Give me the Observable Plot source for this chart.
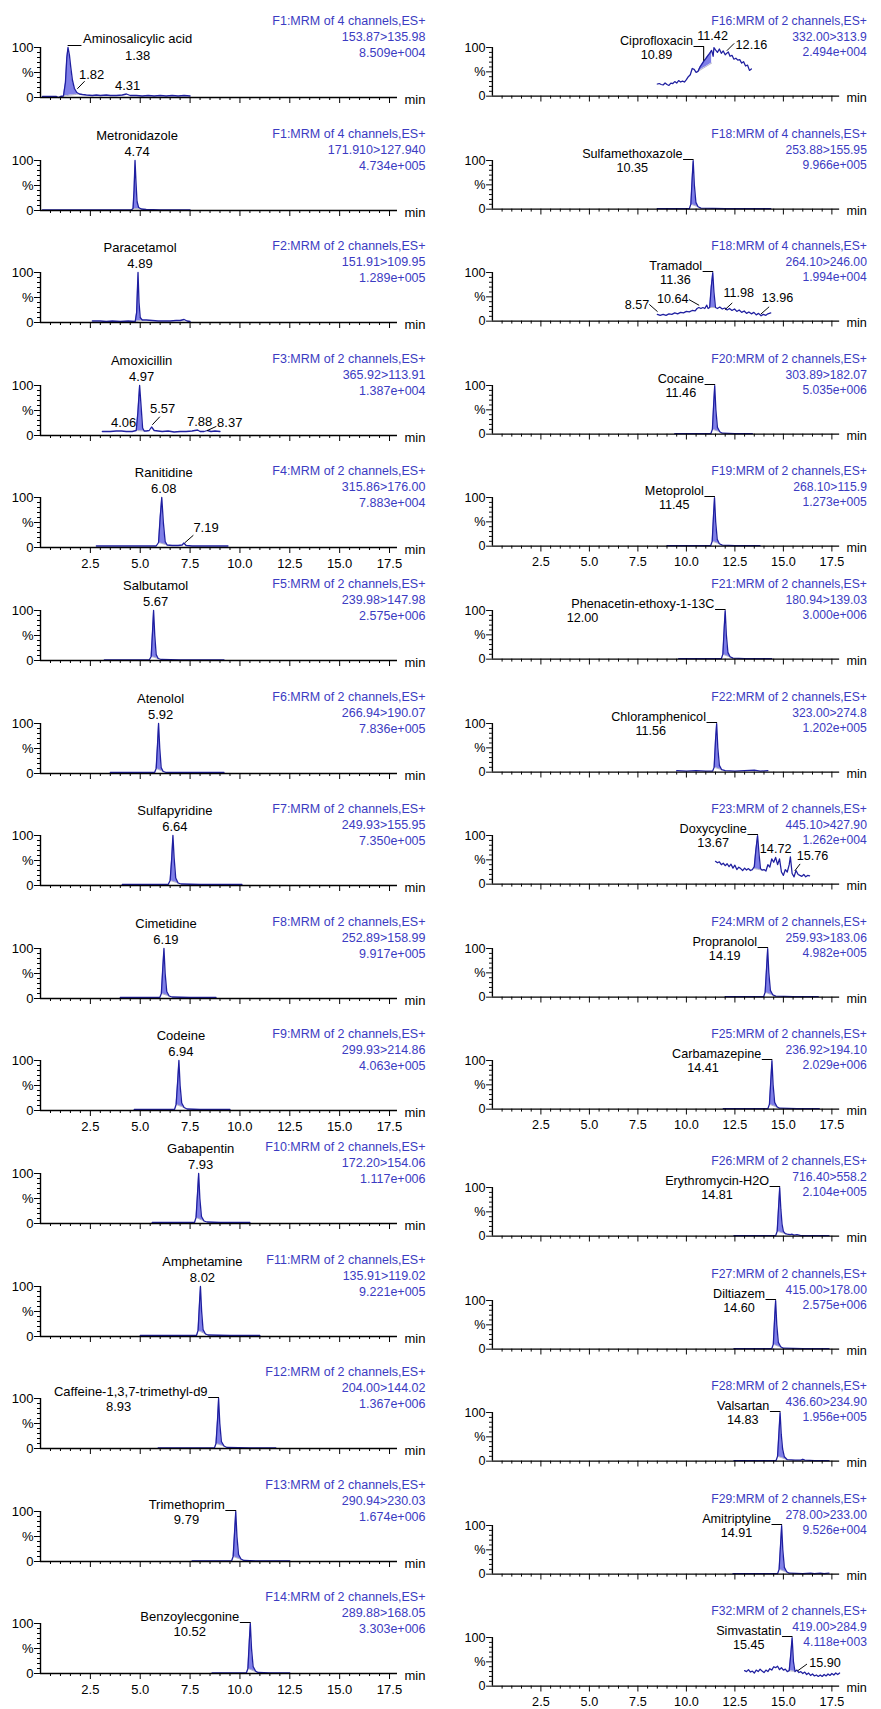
<!DOCTYPE html>
<html><head><meta charset="utf-8">
<script src="https://cdn.jsdelivr.net/npm/d3@7"></script>
<script src="https://cdn.jsdelivr.net/npm/@observablehq/plot@0.6"></script>
<style>
body{margin:0;background:#fff;width:881px;height:1709px;overflow:hidden;position:relative;font-family:Arial,"Liberation Sans",sans-serif}
.panel{position:absolute}
.panel svg{overflow:visible}
</style></head><body><div id="root"></div>
<script>
// ---------- DATA ----------
const compounds = ["Aminosalicylic acid","Metronidazole","Paracetamol","Amoxicillin","Ranitidine","Salbutamol","Atenolol","Sulfapyridine","Cimetidine","Codeine","Gabapentin","Amphetamine","Caffeine-1,3,7-trimethyl-d9","Trimethoprim","Benzoylecgonine",
  "Ciprofloxacin","Sulfamethoxazole","Tramadol","Cocaine","Metoprolol","Phenacetin-ethoxy-1-13C","Chloramphenicol","Doxycycline","Propranolol","Carbamazepine","Erythromycin-H2O","Diltiazem","Valsartan","Amitriptyline","Simvastatin"];
const retentionTimes = ["1.38","4.74","4.89","4.97","6.08","5.67","5.92","6.64","6.19","6.94","7.93","8.02","8.93","9.79","10.52",
  "10.89","10.35","11.36","11.46","11.45","12.00","11.56","13.67","14.19","14.41","14.81","14.60","14.83","14.91","15.45"];
const functions = ["F1:MRM of 4 channels,ES+","F1:MRM of 4 channels,ES+","F2:MRM of 2 channels,ES+","F3:MRM of 2 channels,ES+","F4:MRM of 2 channels,ES+","F5:MRM of 2 channels,ES+","F6:MRM of 2 channels,ES+","F7:MRM of 2 channels,ES+","F8:MRM of 2 channels,ES+","F9:MRM of 2 channels,ES+","F10:MRM of 2 channels,ES+","F11:MRM of 2 channels,ES+","F12:MRM of 2 channels,ES+","F13:MRM of 2 channels,ES+","F14:MRM of 2 channels,ES+",
  "F16:MRM of 2 channels,ES+","F18:MRM of 4 channels,ES+","F18:MRM of 4 channels,ES+","F20:MRM of 2 channels,ES+","F19:MRM of 2 channels,ES+","F21:MRM of 2 channels,ES+","F22:MRM of 2 channels,ES+","F23:MRM of 2 channels,ES+","F24:MRM of 2 channels,ES+","F25:MRM of 2 channels,ES+","F26:MRM of 2 channels,ES+","F27:MRM of 2 channels,ES+","F28:MRM of 2 channels,ES+","F29:MRM of 2 channels,ES+","F32:MRM of 2 channels,ES+"];
const transitions = ["153.87>135.98","171.910>127.940","151.91>109.95","365.92>113.91","315.86>176.00","239.98>147.98","266.94>190.07","249.93>155.95","252.89>158.99","299.93>214.86","172.20>154.06","135.91>119.02","204.00>144.02","290.94>230.03","289.88>168.05",
  "332.00>313.9","253.88>155.95","264.10>246.00","303.89>182.07","268.10>115.9","180.94>139.03","323.00>274.8","445.10>427.90","259.93>183.06","236.92>194.10","716.40>558.2","415.00>178.00","436.60>234.90","278.00>233.00","419.00>284.9"];
const intensities = ["8.509e+004","4.734e+005","1.289e+005","1.387e+004","7.883e+004","2.575e+006","7.836e+005","7.350e+005","9.917e+005","4.063e+005","1.117e+006","9.221e+005","1.367e+006","1.674e+006","3.303e+006",
  "2.494e+004","9.966e+005","1.994e+004","5.035e+006","1.273e+005","3.000e+006","1.202e+005","1.262e+004","4.982e+005","2.029e+006","2.104e+005","2.575e+006","1.956e+005","9.526e+004","4.118e+003"];
const labelStyles = ["after","top","top","top","top","top","top","top","top","top","top","top","before","before","before",
  "before","before","before","before","before","before","before","before","before","before","before","before","before","before","before"];
// horizontal shift of the RT text relative to the centre of the compound name (label layout)
const rtShift = {12: -12, 20: -62, 21: -8, 24: -14};
const xTickLabels = ["2.5","5.0","7.5","10.0","12.5","15.0","17.5"];
const yTickLabels = ["0","%","100"];

// traces: [time (min), relative intensity (%)]
const trAminosalicylic = [[0.1,2],[0.5,2],[0.8,2],[0.9,0],[1.0,2],[1.15,3],[1.25,30],[1.32,80],[1.38,100],[1.45,85],[1.52,60],[1.6,35],[1.7,18],[1.82,10],[1.95,7],[2.1,6],[2.3,5],[2.6,4],[2.8,5],[3.0,4],[3.3,5],[3.5,4],[3.8,4],[4.1,5],[4.31,7],[4.5,4],[4.8,4],[5.1,3],[5.4,4],[5.7,3],[6.0,4],[6.3,3],[6.6,4],[6.9,3],[7.2,4],[7.5,3]];
const trMetronidazole = [[0.1,1],[2,1],[4,1],[4.55,1],[4.64,4],[4.69,40],[4.74,100],[4.79,55],[4.84,18],[4.92,6],[5.05,3],[5.3,2],[6,1],[7.5,1]];
const trParacetamol = [[2.6,3],[3.0,3],[3.3,2],[3.6,3],[4.0,2],[4.4,3],[4.75,2],[4.82,20],[4.89,100],[4.94,40],[5.0,10],[5.1,5],[5.3,5],[5.6,4],[5.9,3],[6.2,3],[6.5,3],[6.8,4],[7.0,4],[7.2,6],[7.35,3],[7.5,2]];
const trAmoxicillin = [[3.1,8],[3.5,8],[3.8,9],[4.06,9],[4.3,8],[4.6,8],[4.8,10],[4.88,45],[4.97,100],[5.05,55],[5.12,15],[5.2,9],[5.3,9],[5.45,10],[5.57,17],[5.7,10],[5.9,9],[6.1,8],[6.4,9],[6.7,7],[7.0,8],[7.3,8],[7.6,9],[7.88,11],[8.0,8],[8.2,8],[8.37,10],[8.55,8],[8.75,9],[9.0,8]];
const trRanitidine = [[2.8,3],[3.5,3],[4.2,3],[5.0,3],[5.8,3],[5.92,10],[6.0,60],[6.08,100],[6.16,50],[6.25,12],[6.35,5],[6.6,4],[6.9,4],[7.1,5],[7.19,9],[7.3,4],[7.6,3],[8.2,3],[8.8,3],[9.4,3]];
const trSalbutamol = [[3.2,1],[4.5,1],[5.45,1],[5.55,8],[5.62,60],[5.67,100],[5.73,50],[5.8,12],[5.9,4],[6.05,2],[7,1],[9.2,1]];
const trAtenolol = [[3.5,2],[5.0,2],[5.72,2],[5.8,10],[5.87,60],[5.92,100],[5.98,50],[6.05,12],[6.15,4],[6.3,2],[7.5,2],[9.2,2]];
const trSulfapyridine = [[4.1,2],[5.5,2],[6.4,2],[6.5,10],[6.58,55],[6.64,100],[6.7,55],[6.78,15],[6.9,5],[7.05,3],[8,2],[10.1,2]];
const trCimetidine = [[4.0,2],[5.2,2],[5.98,2],[6.06,10],[6.13,60],[6.19,100],[6.25,50],[6.33,14],[6.45,5],[6.6,3],[7.5,2],[8.8,2]];
const trCodeine = [[4.7,2],[6.0,2],[6.72,2],[6.8,12],[6.88,60],[6.94,100],[7.0,50],[7.08,15],[7.2,6],[7.35,3],[8,2],[9.5,2]];
const trGabapentin = [[5.6,2],[7.0,2],[7.72,2],[7.8,12],[7.88,65],[7.93,100],[7.99,50],[8.07,14],[8.2,5],[8.35,3],[9,2],[10.5,2]];
const trAmphetamine = [[5.0,2],[6.5,2],[7.82,2],[7.9,12],[7.97,65],[8.02,100],[8.08,50],[8.15,14],[8.27,5],[8.4,3],[9.5,2],[11.0,2]];
const trCaffeine = [[5.9,1],[7.5,1],[8.72,1],[8.8,10],[8.88,60],[8.93,100],[8.99,50],[9.07,14],[9.2,5],[9.35,2],[10.5,1],[11.8,1]];
const trTrimethoprim = [[7.6,1],[9.0,1],[9.58,1],[9.66,10],[9.74,65],[9.79,100],[9.85,50],[9.93,14],[10.05,5],[10.2,2],[11,1],[12.5,1]];
const trBenzoylecgonine = [[8.6,1],[9.8,1],[10.32,1],[10.4,10],[10.47,65],[10.52,100],[10.58,50],[10.66,14],[10.78,5],[10.9,2],[11.5,1],[12.5,1]];
const trCiprofloxacin = [[8.5,25],[8.6,26],[8.7,24],[8.8,23],[8.9,27],[9.0,24],[9.1,22],[9.2,27],[9.3,26],[9.4,30],[9.5,27],[9.6,32],[9.7,29],[9.8,31],[9.9,29],[10.0,34],[10.1,40],[10.2,44],[10.3,57],[10.4,55],[10.5,49],[10.6,51],[10.7,60],[10.8,66],[10.9,72],[11.0,77],[11.1,83],[11.2,88],[11.3,94],[11.38,82],[11.42,100],[11.5,95],[11.6,90],[11.7,97],[11.8,88],[11.9,93],[12.0,85],[12.16,91],[12.25,82],[12.35,84],[12.45,76],[12.55,78],[12.65,74],[12.75,75],[12.85,68],[12.95,71],[13.05,62],[13.15,64],[13.25,53],[13.35,56]];
const trSulfamethoxazole = [[8.5,1],[9.5,1],[10.15,1],[10.23,10],[10.3,65],[10.35,100],[10.41,50],[10.49,14],[10.6,5],[10.75,2],[12,1],[14.35,1]];
const trTramadol = [[8.5,14],[8.65,12],[8.8,14],[8.95,12],[9.1,15],[9.25,14],[9.4,17],[9.55,15],[9.7,18],[9.85,17],[10.0,20],[10.15,19],[10.3,22],[10.45,21],[10.55,26],[10.64,28],[10.75,26],[10.85,28],[10.95,26],[11.05,33],[11.12,26],[11.2,28],[11.28,70],[11.36,100],[11.42,60],[11.5,28],[11.6,26],[11.72,29],[11.85,25],[11.98,27],[12.1,23],[12.22,26],[12.35,22],[12.48,25],[12.6,20],[12.72,23],[12.85,18],[12.98,21],[13.1,16],[13.22,19],[13.35,15],[13.48,18],[13.6,13],[13.72,16],[13.85,11],[13.96,14],[14.1,12],[14.2,15],[14.35,17]];
const trCocaine = [[9.4,1],[10.5,1],[11.26,1],[11.34,10],[11.41,65],[11.46,100],[11.52,50],[11.6,14],[11.72,5],[11.85,2],[12.5,1],[13.4,1]];
const trMetoprolol = [[9.0,1],[10.5,1],[11.25,1],[11.33,10],[11.4,65],[11.45,100],[11.51,50],[11.59,14],[11.7,5],[11.85,2],[12.5,1],[13.8,1]];
const trPhenacetin = [[9.6,1],[11,1],[11.8,1],[11.88,10],[11.95,65],[12.0,100],[12.06,50],[12.14,14],[12.25,5],[12.4,2],[13,1],[14.4,1]];
const trChloramphenicol = [[9.5,3],[10.0,2],[10.5,3],[11.0,2],[11.35,2],[11.43,10],[11.5,65],[11.56,100],[11.62,50],[11.7,14],[11.82,5],[12.0,3],[12.5,2],[13.0,3],[13.5,4],[13.8,2],[14.2,3]];
const trDoxycycline = [[11.5,47],[11.6,44],[11.7,46],[11.8,40],[11.9,43],[12.0,38],[12.1,42],[12.2,36],[12.3,41],[12.4,33],[12.5,39],[12.6,30],[12.7,35],[12.8,32],[12.9,28],[13.0,33],[13.1,29],[13.2,32],[13.3,28],[13.4,30],[13.5,36],[13.58,70],[13.67,100],[13.75,60],[13.82,32],[13.9,29],[14.0,30],[14.1,27],[14.2,40],[14.3,35],[14.4,52],[14.5,45],[14.6,55],[14.7,40],[14.8,52],[14.9,25],[15.0,18],[15.1,30],[15.2,25],[15.3,40],[15.36,56],[15.45,22],[15.55,15],[15.65,28],[15.76,20],[15.85,18],[15.95,16],[16.05,20],[16.15,15],[16.25,18],[16.35,17]];
const trPropranolol = [[12.0,1],[13.2,1],[13.98,1],[14.06,10],[14.14,65],[14.19,100],[14.25,50],[14.33,14],[14.45,5],[14.6,2],[15.5,1],[16.8,1]];
const trCarbamazepine = [[11.9,1],[13.2,1],[14.2,1],[14.28,10],[14.36,65],[14.41,100],[14.47,50],[14.55,14],[14.67,5],[14.8,2],[15.7,1],[16.85,1]];
const trErythromycin = [[12.45,1],[13.5,1],[14.6,1],[14.68,10],[14.76,65],[14.81,100],[14.87,55],[14.93,25],[15.0,10],[15.1,5],[15.2,4],[15.35,3],[15.45,4],[15.55,2],[15.7,3],[15.9,1],[17.35,1]];
const trDiltiazem = [[12.45,1],[13.5,1],[14.4,1],[14.48,10],[14.55,65],[14.6,100],[14.66,50],[14.74,14],[14.86,5],[15.0,2],[16,1],[17.35,1]];
const trValsartan = [[12.45,1],[13.8,1],[14.62,1],[14.7,10],[14.78,65],[14.83,100],[14.89,55],[14.96,25],[15.05,9],[15.2,3],[15.6,2],[15.9,2],[16.0,4],[16.1,2],[16.6,1],[17.35,1]];
const trAmitriptyline = [[12.4,1],[13.8,1],[14.7,1],[14.78,10],[14.86,65],[14.91,100],[14.97,50],[15.05,14],[15.17,5],[15.3,2],[16.0,1],[16.4,2],[16.6,1],[16.9,2],[17.1,1],[17.35,2]];
const trSimvastatin = [[13.0,32],[13.1,30],[13.2,34],[13.3,29],[13.4,31],[13.5,27],[13.6,33],[13.7,30],[13.8,35],[13.9,31],[14.0,28],[14.1,33],[14.2,30],[14.3,36],[14.4,33],[14.5,40],[14.6,38],[14.7,41],[14.8,34],[14.9,38],[15.0,33],[15.1,35],[15.2,30],[15.3,32],[15.38,65],[15.45,100],[15.52,50],[15.6,30],[15.7,33],[15.8,28],[15.9,30],[16.0,26],[16.1,29],[16.2,24],[16.3,27],[16.4,22],[16.5,25],[16.6,21],[16.7,23],[16.8,20],[16.9,23],[17.0,20],[17.1,24],[17.2,21],[17.3,25],[17.4,22],[17.5,26],[17.6,23],[17.7,27],[17.8,24],[17.9,27]];

const traces = [trAminosalicylic,trMetronidazole,trParacetamol,trAmoxicillin,trRanitidine,trSalbutamol,trAtenolol,trSulfapyridine,trCimetidine,trCodeine,trGabapentin,trAmphetamine,trCaffeine,trTrimethoprim,trBenzoylecgonine,
  trCiprofloxacin,trSulfamethoxazole,trTramadol,trCocaine,trMetoprolol,trPhenacetin,trChloramphenicol,trDoxycycline,trPropranolol,trCarbamazepine,trErythromycin,trDiltiazem,trValsartan,trAmitriptyline,trSimvastatin];

// integrated peak windows [start, end, (baseline at start, baseline at end)]
const peakWindows = [[1.15,2.0],[4.6,5.1],[4.75,5.1],[4.8,5.2],[5.88,6.4],[5.5,6.0],[5.75,6.3],[6.45,7.0],[6.0,6.5],[6.75,7.3],[7.75,8.3],[7.85,8.4],[8.75,9.3],[9.6,10.2],[10.35,10.9],
  [10.6,11.3,51,68],[10.2,10.7],[11.2,11.5,28,28],[11.3,11.8],[11.3,11.8],[11.85,12.4],[11.4,11.9],[13.45,13.9,32,29],[14.0,14.6],[14.25,14.8],[14.65,15.1],[14.45,15.0],[14.65,15.2],[14.75,15.3],[15.3,15.6,32,30]];

// secondary peak annotations [panel, label, time, %] and optional leader [t1,%1,t2,%2]
const minorLabels = [
  {p:0, s:"1.82", t:2.56, v:38, leader:[1.86,18,2.2,32]},
  {p:0, s:"4.31", t:4.37, v:15},
  {p:3, s:"4.06", t:4.17, v:17},
  {p:3, s:"5.57", t:6.12, v:46, leader:[5.62,22,5.97,37]},
  {p:3, s:"7.88", t:7.98, v:20},
  {p:3, s:"8.37", t:9.49, v:18, leader:[8.37,10,8.8,18]},
  {p:4, s:"7.19", t:8.3, v:31, leader:[7.25,10,7.65,24]},
  {p:15, s:"11.42", t:11.35, v:115},
  {p:15, s:"12.16", t:13.35, v:98, leader:[12.1,94,12.45,108]},
  {p:17, s:"8.57", t:7.45, v:24, leader:[8.1,34,8.5,20]},
  {p:17, s:"10.64", t:9.3, v:38, leader:[10.15,44,10.64,33]},
  {p:17, s:"11.98", t:12.7, v:50, leader:[12.0,24,12.35,37]},
  {p:17, s:"13.96", t:14.7, v:40, leader:[13.85,15,14.25,29]},
  {p:22, s:"14.72", t:14.6, v:64},
  {p:22, s:"15.76", t:16.5, v:49, leader:[15.6,28,15.85,41]},
  {p:29, s:"15.90", t:17.15, v:39, leader:[15.75,32,16.2,45]}
];

// ---------- DRAWING ----------
const LINE = "#1f1fa0", FILL = "#7f7fe8", BLUE = "#3b3bc2";
const FONT = "Arial, 'Liberation Sans', Helvetica, sans-serif";
const X_MAX = 17.9;
const PXMIN = 357 / X_MAX;
const majorTicks = xTickLabels.map(Number);
const minorTicks = d3.range(1, 36).map(k => k * 0.5).filter(t => t % 2.5 !== 0 && t < X_MAX);
const yMajor = [0, 50, 100];
const yMinor = [10,20,30,40,60,70,80,90];

// Arial / Liberation Sans advance widths (per 1000 em) for label centring
const AFM = {a:556,b:556,c:500,d:556,e:556,f:278,g:556,h:556,i:222,j:222,k:500,l:222,m:833,n:556,o:556,p:556,q:556,r:333,s:500,t:278,u:556,v:500,w:722,x:500,y:500,z:500,
  A:667,B:667,C:722,D:722,E:667,F:611,G:778,H:722,I:278,J:500,K:667,L:556,M:833,N:722,O:778,P:667,Q:778,R:722,S:667,T:611,U:722,V:667,W:944,X:667,Y:667,Z:611,
  "-":333,",":278,".":278," ":278,"_":556,":":278};
function textWidth(s, size = 13) {
  let w = 0;
  for (const ch of s) w += AFM[ch] ?? 556;
  return w * size / 1000;
}

function makePanel(i) {
  const row = i % 15;
  const data = traces[i].map(([t, v]) => ({t, v}));
  const w = peakWindows[i];
  const win = data.filter(d => d.t >= w[0] - 1e-9 && d.t <= w[1] + 1e-9);
  const t0 = win[0].t, t1 = win[win.length - 1].t;
  const b0 = w.length > 2 ? w[2] : win[0].v, b1 = w.length > 2 ? w[3] : win[win.length - 1].v;
  const fillData = win.map(d => ({t: d.t, v: d.v, base: b0 + (b1 - b0) * (d.t - t0) / (t1 - t0)}));
  const rt = parseFloat(retentionTimes[i]);
  const apex = data.reduce((a, d) => Math.abs(d.t - rt) < Math.abs(a.t - rt) ? d : a).v;
  const showX = row === 4 || row === 9 || row === 14;
  const name = compounds[i], style = labelStyles[i];

  const txt = (s, t, v, o) => Plot.text([{t, v, s}], {x: "t", y: "v", text: "s", lineAnchor: "bottom", fontSize: 13, fill: "#000", ...o});

  const marks = [
    Plot.areaY(fillData, {x: "t", y1: "base", y2: "v", fill: FILL}),
    Plot.line(fillData, {x: "t", y: "base", stroke: "#a0a0b8", strokeWidth: 0.8}),
    Plot.line(data, {x: "t", y: "v", stroke: LINE, strokeWidth: 1.3}),
    Plot.ruleY([0], {x1: 0, x2: X_MAX, stroke: "#000", strokeWidth: 1.4}),
    Plot.ruleX([0], {y1: 0, y2: 100, stroke: "#000", strokeWidth: 1.4}),
    Plot.axisX({ticks: majorTicks, tickSize: 6, tickPadding: 5, label: null, fontSize: 13,
      tickFormat: showX ? (d => xTickLabels[majorTicks.indexOf(d)]) : (() => "")}),
    Plot.axisX({ticks: minorTicks, tickSize: 3, label: null, tickFormat: () => ""}),
    Plot.axisY({ticks: yMajor, tickSize: 6, tickPadding: 1, label: null, fontSize: 13,
      tickFormat: d => yTickLabels[yMajor.indexOf(d)]}),
    Plot.axisY({ticks: yMinor, tickSize: 3, label: null, tickFormat: () => ""}),
    txt("min", X_MAX, 0, {dx: 7, dy: 6, textAnchor: "start"}),
    txt(functions[i], X_MAX, 100, {dx: 28, dy: -23, textAnchor: "end", fill: BLUE, fontSize: 12.5}),
    txt(transitions[i], X_MAX, 100, {dx: 28, dy: -7, textAnchor: "end", fill: BLUE, fontSize: 12.5}),
    txt(intensities[i], X_MAX, 100, {dx: 28, dy: 9, textAnchor: "end", fill: BLUE, fontSize: 12.5})
  ];

  const nw = textWidth(name);
  const shift = rtShift[i] || 0;
  if (style === "top") {
    marks.push(txt(name, rt, 100, {dx: 2, dy: -21, textAnchor: "middle"}));
    marks.push(txt(retentionTimes[i], rt, 100, {dx: 2, dy: -5, textAnchor: "middle"}));
  } else if (style === "before") {
    const g = 10 / PXMIN;
    marks.push(txt(name, rt, 100, {dx: -11, dy: -3, textAnchor: "end"}));
    marks.push(txt(retentionTimes[i], rt, 100, {dx: -11 - nw / 2 + shift, dy: 12, textAnchor: "middle"}));
    marks.push(Plot.line([[rt - g, 100], [rt, 100], [rt, apex]], {stroke: "#000", strokeWidth: 1.1, dy: -1}));
  } else {
    const g = 13 / PXMIN;
    marks.push(txt(name, rt, 100, {dx: 15, dy: -4.5, textAnchor: "start"}));
    marks.push(txt(retentionTimes[i], rt, 100, {dx: 15 + nw / 2 + shift, dy: 12, textAnchor: "middle"}));
    marks.push(Plot.line([[rt, apex], [rt, 100], [rt + g, 100]], {stroke: "#000", strokeWidth: 1.1, dy: -2}));
  }
  for (const m of minorLabels.filter(m => m.p === i)) {
    marks.push(txt(m.s, m.t, m.v, {textAnchor: "middle"}));
    if (m.leader) {
      const [a, b, c, d] = m.leader;
      marks.push(Plot.line([[a, b], [c, d]], {stroke: "#000", strokeWidth: 1}));
    }
  }

  return Plot.plot({
    width: 440, height: 112,
    marginLeft: 40, marginRight: 43, marginTop: 35, marginBottom: 27,
    x: {domain: [0, X_MAX], label: null},
    y: {domain: [0, 100], label: null},
    style: {fontFamily: FONT, fontSize: "13px", color: "#000", background: "transparent", overflow: "visible"},
    marks
  });
}

const root = document.getElementById("root");
for (let i = 0; i < 30; i++) {
  const col = i < 15 ? 0 : 1, row = i % 15;
  const div = document.createElement("div");
  div.className = "panel";
  const left = col === 0 ? 0 : 453;
  const top = col === 0 ? 12 + 112.6 * row : (row < 10 ? 13 + 112.6 * row : 1153 + 112.5 * (row - 10));
  div.style.left = left + "px";
  div.style.top = top.toFixed(1) + "px";
  div.appendChild(makePanel(i));
  root.appendChild(div);
}
</script>
</body></html>
